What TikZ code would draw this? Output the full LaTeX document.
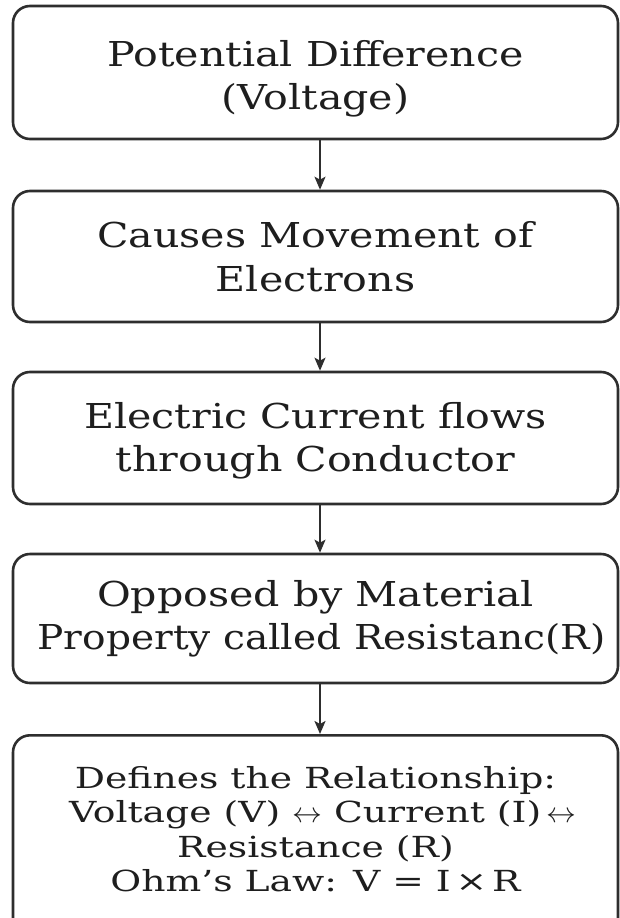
\documentclass[tikz,border=0pt]{standalone}
\usepackage{fontspec}
\setmainfont{DejaVu Serif}[FakeStretch=1.2]
\newfontfamily\lastfont{DejaVu Serif}[FakeStretch=1.3]
\usetikzlibrary{arrows.meta}
\definecolor{edge}{HTML}{2E2E2E}
\definecolor{ink}{HTML}{1E1E1E}
\newcommand{\wideLR}{\scalebox{1.2}[1.15]{$\leftrightarrow$}}
\newcommand{\topstrut}[1]{\rule{0pt}{#1pt}}
\newcommand{\botstrut}[1]{\rule[-#1pt]{0pt}{#1pt}}
\tikzset{
  flowbox/.style={draw=edge, line width=2.6pt, rounded corners=17pt,
    minimum width=605pt, inner sep=0pt, align=center, text=ink,
    font=\fontsize{34.3}{43.5}\selectfont},
  lastbox/.style={flowbox, font=\lastfont\fontsize{29}{34.5}\selectfont},
  flowarrow/.style={draw=edge, line width=2pt,
    -{Stealth[length=13pt,width=11pt,inset=3pt]}}
}
\begin{document}
\begin{tikzpicture}[x=1pt,y=-1pt]
\useasboundingbox[fill=white] (0,0) rectangle (620,918);
\node[flowbox, minimum height=133pt] (n1) at (315.5,72.5)
  {\topstrut{41}Potential Difference\\(Voltage)\botstrut{10}};
\node[flowbox, minimum height=131pt] (n2) at (315.5,256.5)
  {\topstrut{36}Causes Movement of\\Electrons\botstrut{10}};
\node[flowbox, minimum height=132pt] (n3) at (315.5,438)
  {\topstrut{34}Electric Current flows\\through Conductor\botstrut{10}};
\node[flowbox, minimum height=129pt] (n4) at (315.5,618.5)
  {\topstrut{30}Opposed by Material\hspace{24pt}\\
   \hspace{12pt}\scalebox{0.95}[1]{Property called Resistanc(R)}\botstrut{11}};
\node[lastbox, anchor=north] (n5) at (315.5,734)
  {\topstrut{53}Defines the Relationship:\\
   \hspace{14pt}Voltage (V) \wideLR{} Current (I)\,\wideLR\\
   Resistance (R)\\
   Ohm’s Law: V = I\,×\,R\botstrut{50}};
\draw[flowarrow] (n1.south -| 320,0) -- (n2.north -| 320,0);
\draw[flowarrow] (n2.south -| 320,0) -- (n3.north -| 320,0);
\draw[flowarrow] (n3.south -| 320,0) -- (n4.north -| 320,0);
\draw[flowarrow] (n4.south -| 320,0) -- (n5.north -| 320,0);
\end{tikzpicture}
\end{document}
